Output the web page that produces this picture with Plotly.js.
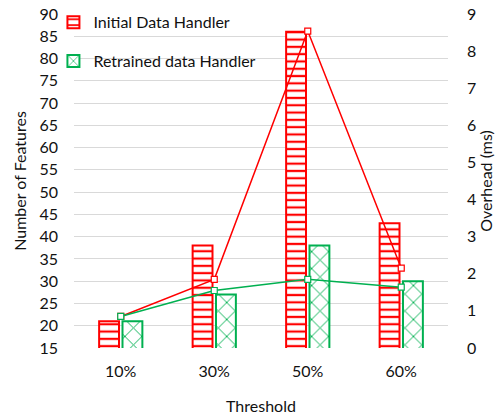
<!DOCTYPE html>
<html>
<head>
<meta charset="utf-8">
<script src="https://cdn.plot.ly/plotly-3.0.1.min.js"></script>
<style>html,body{margin:0;padding:0;background:#fff;}#chart{width:500px;height:420px;}</style>
</head>
<body>
<div id="chart"></div>
<script>
const categories = ["10%", "30%", "50%", "60%"];
const initialFeatures = [21, 38, 86, 43];
const retrainedFeatures = [21, 27, 38, 30];
const initialOverhead = [0.85, 1.85, 8.54, 2.15];
const retrainedOverhead = [0.85, 1.55, 1.85, 1.64];
const seriesNames = ["Initial Data Handler", "Retrained data Handler"];

const RED = "#FF0000";
const GREEN = "#00B050";
const FONT = "Lato, 'Open Sans', sans-serif";

const traces = [
  {
    type: "bar", x: categories, y: initialFeatures, name: seriesNames[0],
    legendgroup: "a",
    marker: {color: "#ffffff", line: {color: RED, width: 2},
      pattern: {shape: "-", fgcolor: RED, bgcolor: "#ffffff", size: 7.3, solidity: 0.3}}
  },
  {
    type: "bar", x: categories, y: retrainedFeatures, name: seriesNames[1],
    legendgroup: "b",
    marker: {color: "#ffffff", line: {color: GREEN, width: 2},
      pattern: {shape: "x", fgcolor: GREEN, bgcolor: "#ffffff", size: 12, solidity: 0.15}}
  },
  {
    type: "scatter", mode: "lines+markers", x: categories, y: initialOverhead, yaxis: "y2",
    name: seriesNames[0], showlegend: false, legendgroup: "a",
    line: {color: RED, width: 1.5},
    marker: {symbol: "square", size: 6, color: "#ffffff", line: {color: RED, width: 1.2}}
  },
  {
    type: "scatter", mode: "lines+markers", x: categories, y: retrainedOverhead, yaxis: "y2",
    name: seriesNames[1], showlegend: false, legendgroup: "b",
    line: {color: GREEN, width: 1.5},
    marker: {symbol: "square", size: 6, color: "#ffffff", line: {color: GREEN, width: 1.2}}
  }
];

const layout = {
  width: 500, height: 420,
  margin: {l: 74, r: 52, t: 14, b: 72, autoexpand: false},
  paper_bgcolor: "#ffffff", plot_bgcolor: "#ffffff",
  font: {family: FONT, size: 16, color: "#111111"},
  barmode: "group", bargap: 0.5, bargroupgap: 0.15,
  showlegend: true,
  legend: {x: -0.055, y: 1.026, xanchor: "left", yanchor: "top", bgcolor: "rgba(0,0,0,0)",
    traceorder: "grouped", tracegroupgap: 15, font: {family: FONT, size: 16, color: "#111"}},
  xaxis: {
    type: "category", showgrid: false, zeroline: false,
    showline: false, ticks: "", tickfont: {size: 16}, ticklabelstandoff: 12,
    title: {text: "Threshold", font: {size: 16}, standoff: 21}
  },
  yaxis: {
    range: [15, 90], dtick: 5, tick0: 15, showgrid: true, gridcolor: "#D9D9D9", gridwidth: 1,
    zeroline: false, showline: false, ticks: "", tickfont: {size: 16}, ticklabelstandoff: 15,
    title: {text: "Number of Features", font: {size: 16}, standoff: 8}
  },
  yaxis2: {
    overlaying: "y", side: "right", range: [0, 9], dtick: 1, showgrid: false,
    zeroline: false, showline: false, ticks: "", tickfont: {size: 16}, ticklabelstandoff: 18,
    title: {text: "Overhead (ms)", font: {size: 16}, standoff: 2}
  }
};

Plotly.newPlot("chart", traces, layout, {displayModeBar: false, staticPlot: true});
</script>
</body>
</html>
